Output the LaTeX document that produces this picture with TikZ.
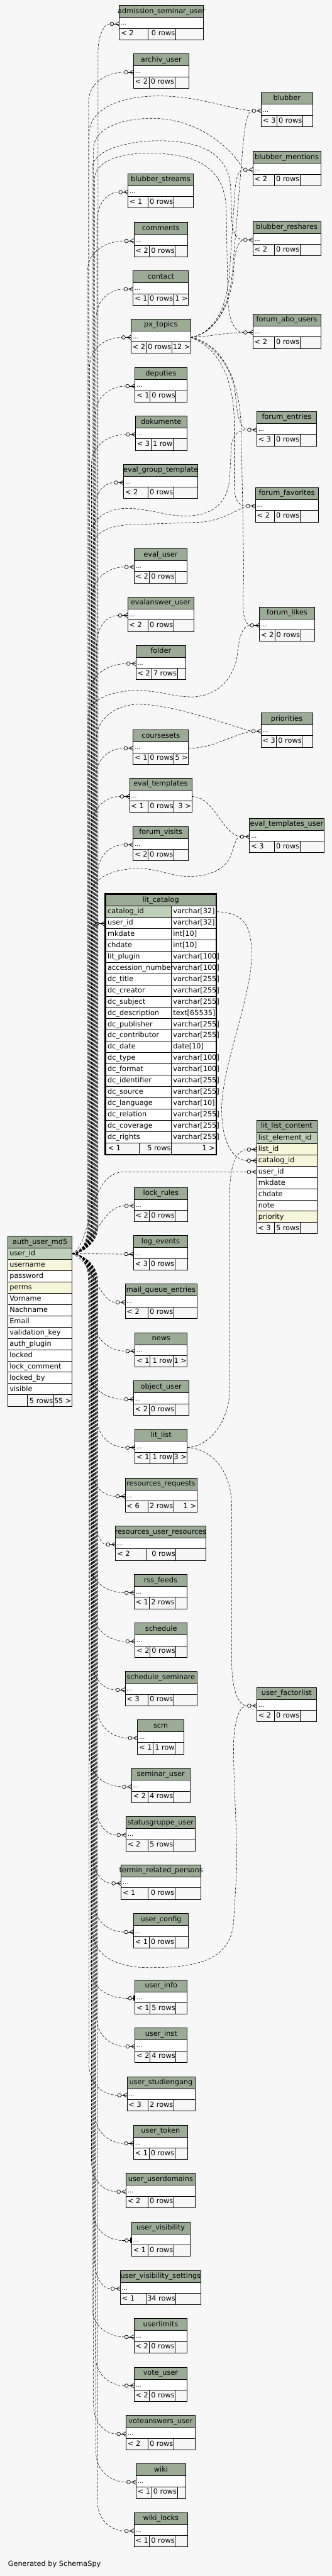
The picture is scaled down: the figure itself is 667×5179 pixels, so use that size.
\documentclass[tikz,border=0pt]{standalone}
\usepackage{fontspec}
\setmainfont{DejaVu Sans}
\usetikzlibrary{calc}
\definecolor{bgc}{HTML}{F7F7F7}
\definecolor{hdrc}{HTML}{9BAB96}
\definecolor{pkc}{HTML}{BED1B8}
\definecolor{idxc}{HTML}{F4F7DA}
\newcommand\tfont{\fontsize{14.3}{17}\selectfont}
\newlength\ttlw
\tikzset{
 txt/.style={font=\tfont, inner sep=0pt, text=black},
 dots/.style={font=\fontsize{12}{14}\selectfont, inner sep=0pt},
 boxline/.style={draw=black, line width=0.9pt},
 fk/.style={draw=black, line width=0.7pt, dash pattern=on 5pt off 3pt},
 mk/.style={draw=black, line width=0.9pt},
}
\newcommand\tblA[9]{%
  \path[fill=hdrc] (#2,#4) rectangle (#3,#4+24);
  \path[fill=white] (#2,#4+24) rectangle (#3,#4+46);
  \draw[boxline] (#2,#4) rectangle (#3,#4+69);
  \draw[boxline] (#2,#4+24) -- (#3,#4+24) (#2,#4+46) -- (#3,#4+46)
     (#5,#4+46) -- (#5,#4+69) (#6,#4+46) -- (#6,#4+69);
  \settowidth\ttlw{\tfont #7}%
  \node[txt,anchor=base,xshift=0.048\ttlw] (#1-title) at ({(#2+#3)/2},#4+16) {#7};
  \node[dots,anchor=base west] (#1-dots) at (#2+3,#4+39.5) {...};
  \node[txt,anchor=base west] (#1-l) at (#2+3,#4+61) {#8};
  \node[txt,anchor=base east] (#1-m) at (#6-1,#4+61) {#9};
  \coordinate (#1-in) at (#2-19,#4+37);
  \coordinate (#1-out) at (#3,#4+37);
}
\newcommand\rlab[4]{\node[txt,anchor=base east] (#1-r) at (#2-1,#3+61) {#4};}
\newcommand\crowmark[1]{%
  \draw[mk] ($(#1)+(4,0)$) circle[radius=3.6];
  \draw[mk] ($(#1)+(7.6,0)$) -- ($(#1)+(19,0)$);
  \draw[mk] ($(#1)+(11,0)$) -- ($(#1)+(19,-4.5)$) ($(#1)+(11,0)$) -- ($(#1)+(19,4.5)$);
}
\newcommand\onemark[1]{%
  \draw[mk] ($(#1)+(9,0)$) circle[radius=3.6];
  \draw[mk] (#1) -- ($(#1)+(5.4,0)$) ($(#1)+(12.6,0)$) -- ($(#1)+(16,0)$);
  \fill ($(#1)+(15.5,-5)$) rectangle ($(#1)+(18.5,5)$);
}
\newcommand\upc[2]{%
  \draw[fk] let \p1=(#1-in) in (auth-out) .. controls +(18pt,0pt) and (#2pt,-2500pt) .. (#2pt,-2465pt)
   -- (#2pt,\y1-60pt) .. controls (#2pt,\y1-22pt) and ({\x1/2+#2pt/2},\y1) .. (#1-in);
}
\newcommand\dnc[2]{%
  \draw[fk] let \p1=(#1-in) in (auth-out) .. controls +(18pt,0pt) and (#2pt,-2540pt) .. (#2pt,-2575pt)
   -- (#2pt,\y1+60pt) .. controls (#2pt,\y1+22pt) and ({\x1/2+#2pt/2},\y1) .. (#1-in);
}
\begin{document}
\begin{tikzpicture}[x=1pt,y=-1pt]
\useasboundingbox (0,0) rectangle (667,5179);
\fill[bgc] (0,0) rectangle (667,5179);

% ---------- small tables ----------
\tblA{admsem}{240}{409}{11}{297}{353}{admission\_seminar\_user}{< 2}{0 rows}
\tblA{archiv}{268.5}{379.6}{108.3}{299.6}{351.5}{archiv\_user}{< 2}{0 rows}
\tblA{blubber}{525.5}{628.5}{185.7}{556.6}{608.5}{blubber}{< 3}{0 rows}
\tblA{blubmen}{508.5}{644.7}{304.3}{551.5}{603.4}{blubber\_mentions}{< 2}{0 rows}
\tblA{blubstr}{257.4}{388.5}{349.3}{297.4}{349.4}{blubber\_streams}{< 1}{0 rows}
\tblA{comments}{269.4}{377.4}{447.3}{300.4}{352.3}{comments}{< 2}{0 rows}
\tblA{blubres}{508.5}{644.7}{445.3}{551.5}{603.4}{blubber\_reshares}{< 2}{0 rows}
\tblA{contact}{267.7}{379.1}{544.3}{297.9}{349.4}{contact}{< 1}{0 rows}
\rlab{contact}{379.1}{544.3}{1 >}
\tblA{pxtopics}{263.4}{383.4}{641.3}{293.2}{345.5}{px\_topics}{< 2}{0 rows}
\rlab{pxtopics}{383.4}{641.3}{12 >}
\tblA{forumabo}{508.5}{644.7}{631.3}{551.5}{603.4}{forum\_abo\_users}{< 2}{0 rows}
\tblA{deputies}{271.5}{375.7}{739.3}{301.7}{353.6}{deputies}{< 1}{0 rows}
\tblA{dokumente}{272.3}{375.7}{836.3}{303.4}{348.1}{dokumente}{< 3}{1 row}
\tblA{forument}{516.2}{636.6}{827.3}{551.5}{603.4}{forum\_entries}{< 3}{0 rows}
\tblA{evalgrp}{248.5}{397.9}{933.3}{297.9}{349.4}{eval\_group\_template}{< 2}{0 rows}
\tblA{forumfav}{513.6}{639.6}{980.3}{551.5}{603.4}{forum\_favorites}{< 2}{0 rows}
\tblA{evaluser}{269.4}{376.6}{1103}{300.4}{352.3}{eval\_user}{< 2}{0 rows}
\tblA{evalans}{256.6}{389.4}{1200.3}{297.9}{349.4}{evalanswer\_user}{< 2}{0 rows}
\tblA{forumlikes}{521.7}{632.8}{1220.3}{552.8}{604.3}{forum\_likes}{< 2}{0 rows}
\tblA{folder}{273.2}{373.6}{1297.3}{304.7}{356.6}{folder}{< 2}{7 rows}
\tblA{priorities}{524.7}{628.5}{1433}{555.7}{607.7}{priorities}{< 3}{0 rows}
\tblA{coursesets}{267.7}{379.1}{1467.3}{297.9}{349.8}{coursesets}{< 1}{0 rows}
\rlab{coursesets}{379.1}{1467.3}{5 >}
\tblA{evaltpl}{260.4}{385.5}{1564.3}{297.9}{349.8}{eval\_templates}{< 1}{0 rows}
\rlab{evaltpl}{385.5}{1564.3}{3 >}
\tblA{evaltpluser}{501.7}{651.5}{1645.3}{551.5}{603.4}{eval\_templates\_user}{< 3}{0 rows}
\tblA{forumvisits}{267.7}{379.1}{1661.3}{297.9}{349.4}{forum\_visits}{< 2}{0 rows}
\tblA{lockrules}{269.4}{377.4}{2387.3}{300.4}{352.3}{lock\_rules}{< 2}{0 rows}
\tblA{logevents}{268.5}{377.4}{2484.3}{299.6}{351.5}{log\_events}{< 3}{0 rows}
\tblA{mailq}{251.5}{395.7}{2581.3}{297.9}{349.4}{mail\_queue\_entries}{< 2}{0 rows}
\tblA{news}{271.5}{376.6}{2679.3}{301.7}{347.7}{news}{< 1}{1 row}
\rlab{news}{376.6}{2679.3}{1 >}
\tblA{objuser}{268.5}{379.6}{2776.3}{299.6}{351.5}{object\_user}{< 2}{0 rows}
\tblA{litlist}{271.5}{376.6}{2873.3}{301.7}{347.7}{lit\_list}{< 1}{1 row}
\rlab{litlist}{376.6}{2873.3}{3 >}
\tblA{resreq}{251.5}{395.7}{2971.3}{297.9}{349.4}{resources\_requests}{< 6}{2 rows}
\rlab{resreq}{395.7}{2971.3}{1 >}
\tblA{resuser}{232.3}{413.6}{3068}{293.6}{353.6}{resources\_user\_resources}{< 2}{0 rows}
\tblA{rss}{269.4}{376.6}{3165.3}{300.4}{352.3}{rss\_feeds}{< 1}{2 rows}
\tblA{schedule}{271.5}{376.6}{3263}{301.7}{353.6}{schedule}{< 2}{0 rows}
\tblA{schedsem}{251.5}{395.7}{3360.3}{297.9}{349.4}{schedule\_seminare}{< 3}{0 rows}
\tblA{factorlist}{516.2}{636.6}{3392.3}{551.5}{603.4}{user\_factorlist}{< 2}{0 rows}
\tblA{scm}{276.6}{369.8}{3457.3}{307.7}{352.3}{scm}{< 1}{1 row}
\tblA{seminaruser}{264.7}{381.7}{3555}{297.9}{349.4}{seminar\_user}{< 2}{4 rows}
\tblA{statusgr}{253.6}{392.3}{3652.3}{297.9}{349.4}{statusgruppe\_user}{< 2}{5 rows}
\tblA{termin}{243.4}{404.3}{3749.3}{297.9}{351.5}{termin\_related\_persons}{< 1}{0 rows}
\tblA{userconfig}{268.5}{379.1}{3847.3}{299.6}{351.5}{user\_config}{< 1}{0 rows}
\tblA{userinfo}{271.5}{376.6}{3980.3}{301.7}{353.6}{user\_info}{< 1}{5 rows}
\tblA{userinst}{271.5}{376.6}{4077.3}{301.7}{353.6}{user\_inst}{< 2}{4 rows}
\tblA{userstud}{255.3}{391.9}{4175.3}{297.9}{349.4}{user\_studiengang}{< 3}{2 rows}
\tblA{usertoken}{268.5}{377.4}{4272.3}{299.6}{351.5}{user\_token}{< 1}{0 rows}
\tblA{userdom}{253.6}{392.3}{4369.3}{297.9}{349.4}{user\_userdomains}{< 2}{0 rows}
\tblA{uservis}{264.7}{381.7}{4467.3}{297.9}{349.4}{user\_visibility}{< 1}{0 rows}
\tblA{uservisset}{241.7}{404.3}{4564.3}{293.6}{353.6}{user\_visibility\_settings}{< 1}{34 rows}
\tblA{userlimits}{269.4}{376.6}{4661.3}{300.4}{352.3}{userlimits}{< 2}{0 rows}
\tblA{voteuser}{269.4}{376.6}{4759.3}{300.4}{352.3}{vote\_user}{< 2}{0 rows}
\tblA{voteans}{253.6}{392.3}{4856.3}{297.9}{349.4}{voteanswers\_user}{< 2}{0 rows}
\tblA{wiki}{273.6}{373.6}{4953.3}{304.7}{356.6}{wiki}{< 1}{0 rows}
\tblA{wikilocks}{269.4}{377.4}{5051.3}{300.4}{352.3}{wiki\_locks}{< 1}{0 rows}

% ---------- lit_catalog ----------
\path[fill=hdrc] (211.7,1797.2) rectangle (434.7,1821.3);
\path[fill=white] (211.7,1821.3) rectangle (434.7,2297.3);
\path[fill=pkc] (211.7,1821.3) rectangle (344.7,1844);
\settowidth\ttlw{\tfont lit\_catalog}
\node[txt,anchor=base,xshift=0.048\ttlw] (litcat-title) at (323.2,1813.5) {lit\_catalog};
\foreach \nm/\ty [count=\i from 0] in {catalog\_id/varchar[32],user\_id/varchar[32],mkdate/int[10],chdate/int[10],lit\_plugin/varchar[100],accession\_number/varchar[100],dc\_title/varchar[255],dc\_creator/varchar[255],dc\_subject/varchar[255],dc\_description/text[65535],dc\_publisher/varchar[255],dc\_contributor/varchar[255],dc\_date/date[10],dc\_type/varchar[100],dc\_format/varchar[100],dc\_identifier/varchar[255],dc\_source/varchar[255],dc\_language/varchar[10],dc\_relation/varchar[255],dc\_coverage/varchar[255],dc\_rights/varchar[255]}{
  \pgfmathsetmacro\ya{1821.3+22.67*\i}
  \draw[boxline] (211.7,\ya) -- (434.7,\ya);
  \node[txt,anchor=base west] (lc-n\i) at (216.2,\ya+15.5) {\nm};
  \node[txt,anchor=base west] (lc-t\i) at (348,\ya+15.5) {\ty};
}
\draw[boxline] (211.7,2297.3) -- (434.7,2297.3) (344.7,1821.3) -- (344.7,2321.5) (279.6,2297.3) -- (279.6,2321.5);
\node[txt,anchor=base west] (litcat-l) at (217,2313) {< 1};
\node[txt,anchor=base east] (litcat-m) at (343.5,2313) {5 rows};
\node[txt,anchor=base east] (litcat-r) at (432.5,2313) {1 >};
\draw[draw=black,line width=3pt] (211.7,1797.2) rectangle (434.7,2321.5);
\coordinate (litcat-in) at (191.2,1857);
\coordinate (litcat-out) at (436.2,1833);

% ---------- lit_list_content ----------
\path[fill=hdrc] (515.7,2252.3) rectangle (637.4,2276.3);
\foreach \nm/\cc [count=\i from 0] in {list\_element\_id/pkc,list\_id/idxc,catalog\_id/idxc,user\_id/white,mkdate/white,chdate/white,note/white,priority/idxc}{
  \pgfmathsetmacro\ya{2276.3+22.67*\i}
  \path[fill=\cc] (515.7,\ya) rectangle (637.4,\ya+22.67);
  \draw[boxline] (515.7,\ya) -- (637.4,\ya);
  \node[txt,anchor=base west] (llc-n\i) at (519.2,\ya+15.5) {\nm};
}
\draw[boxline] (515.7,2457.6) -- (637.4,2457.6) (551.5,2457.6) -- (551.5,2480) (603.4,2457.6) -- (603.4,2480);
\draw[boxline] (515.7,2252.3) rectangle (637.4,2480);
\settowidth\ttlw{\tfont lit\_list\_content}
\node[txt,anchor=base,xshift=0.048\ttlw] (llc-title) at (576.5,2268.3) {lit\_list\_content};
\node[txt,anchor=base west] (llc-l) at (518.7,2474) {< 3};
\node[txt,anchor=base east] (llc-m) at (602.4,2474) {5 rows};
\coordinate (llclist-in) at (496.7,2311);
\coordinate (llccat-in) at (496.7,2333.5);
\coordinate (llcuser-in) at (496.7,2356);

% ---------- auth_user_md5 ----------
\path[fill=hdrc] (16.2,2485.3) rectangle (144.7,2509.3);
\foreach \nm/\cc [count=\i from 0] in {user\_id/pkc,username/idxc,password/white,perms/idxc,Vorname/white,Nachname/white,Email/white,validation\_key/white,auth\_plugin/white,locked/white,lock\_comment/white,locked\_by/white,visible/white}{
  \pgfmathsetmacro\ya{2509.3+22.67*\i}
  \path[fill=\cc] (16.2,\ya) rectangle (144.7,\ya+22.67);
  \draw[boxline] (16.2,\ya) -- (144.7,\ya);
  \node[txt,anchor=base west] (auth-n\i) at (19.2,\ya+15.5) {\nm};
}
\draw[boxline] (16.2,2804) -- (144.7,2804) (55.3,2804) -- (55.3,2827) (107.7,2804) -- (107.7,2827);
\draw[boxline] (16.2,2485.3) rectangle (144.7,2827);
\settowidth\ttlw{\tfont auth\_user\_md5}
\node[txt,anchor=base,xshift=0.048\ttlw] (auth-title) at (80.5,2501.3) {auth\_user\_md5};
\node[txt,anchor=base east] (auth-m) at (106.7,2821) {5 rows};
\node[txt,anchor=base east] (auth-r) at (143.7,2821) {55 >};
\coordinate (auth-out) at (144.7,2520.5);

% ---------- connectors from auth_user_md5 to the left column ----------
\upc{admsem}{197}
\upc{archiv}{178}
\upc{blubstr}{195}
\upc{comments}{176}
\upc{contact}{193}
\upc{pxtopics}{180}
\upc{deputies}{191}
\upc{dokumente}{184}
\upc{evalgrp}{189}
\upc{evaluser}{186}
\upc{evalans}{194}
\upc{folder}{181}
\upc{coursesets}{192}
\upc{evaltpl}{185}
\upc{forumvisits}{196}
\draw[fk] (auth-out) .. controls (163,2520) and (186,2500) .. (186,2465) -- (186,1890) .. controls (186,1868) and (188,1857) .. (litcat-in);
\draw[fk] (auth-out) .. controls (190,2505) and (205,2424.3) .. (lockrules-in);
\draw[fk] (auth-out) -- (logevents-in);
\draw[fk] (auth-out) .. controls (185,2535) and (200,2618.3) .. (mailq-in);
\dnc{news}{190}
\dnc{objuser}{178}
\dnc{litlist}{195}
\dnc{resreq}{183}
\dnc{resuser}{192}
\dnc{rss}{181}
\dnc{schedule}{188}
\dnc{schedsem}{185}
\dnc{scm}{196}
\dnc{seminaruser}{180}
\dnc{statusgr}{193}
\dnc{termin}{186}
\dnc{userconfig}{189}
\dnc{userinfo}{182}
\dnc{userinst}{194}
\dnc{userstud}{179}
\dnc{usertoken}{191}
\dnc{userdom}{184}
\dnc{uservis}{187}
\dnc{uservisset}{190}
\dnc{userlimits}{185}
\dnc{voteuser}{192}
\dnc{voteans}{188}
\dnc{wiki}{193}
\dnc{wikilocks}{196}

% ---------- connectors from auth_user_md5 to the right column ----------
\draw[fk] (auth-out) .. controls (163,2520) and (179,2500) .. (179,2465) -- (179,270) .. controls (179,215) and (250,193) .. (319,193) .. controls (400,193) and (460,219) .. (blubber-in);
\draw[fk] (auth-out) .. controls (163,2520) and (188,2500) .. (188,2465) -- (188,300) .. controls (188,255) and (250,238) .. (306,238) .. controls (400,238) and (468,300) .. (blubmen-in);
\draw[fk] (auth-out) .. controls (163,2520) and (185,2500) .. (185,2465) -- (185,340) .. controls (185,300) and (260,283) .. (319,283) .. controls (420,283) and (462,320) .. (464,380) -- (466,440) .. controls (467,470) and (477,482.3) .. (blubres-in);
\draw[fk] (auth-out) .. controls (163,2520) and (190,2500) .. (190,2465) -- (190,360) .. controls (190,325) and (240,308) .. (298,308) .. controls (400,308) and (452,340) .. (455,420) -- (458,600) .. controls (460,645) and (472,668.3) .. (forumabo-in);
\draw[fk] (auth-out) .. controls (163,2520) and (182,2500) .. (182,2465) -- (182,1080) .. controls (182,1040) and (220,1022) .. (255,1022) .. controls (300,1022) and (340,1040) .. (383,1037) .. controls (430,1034) and (458,1010) .. (462,960) -- (465,900) .. controls (467,875) and (478,864.3) .. (forument-in);
\draw[fk] (auth-out) .. controls (163,2520) and (187,2500) .. (187,2465) -- (187,1100) .. controls (187,1070) and (220,1057) .. (260,1055) -- (400,1050) .. controls (440,1048) and (470,1030) .. (forumfav-in);
\draw[fk] (auth-out) .. controls (163,2520) and (177,2500) .. (177,2465) -- (177,1440) .. controls (177,1400) and (240,1388) .. (277,1388) .. controls (330,1390) and (350,1402) .. (390,1401) .. controls (440,1398) and (474,1360) .. (478,1310) .. controls (481,1280) and (488,1257.3) .. (forumlikes-in);
\draw[fk] (auth-out) .. controls (163,2520) and (193,2500) .. (193,2465) -- (193,1490) .. controls (193,1440) and (240,1416) .. (277,1416) .. controls (350,1416) and (450,1455) .. (priorities-in);
\draw[fk] (auth-out) .. controls (163,2520) and (183,2500) .. (183,2465) -- (183,1800) .. controls (183,1760) and (240,1746) .. (277,1746) .. controls (320,1746) and (340,1762) .. (380,1762) .. controls (430,1762) and (458,1742) .. (466,1715) .. controls (472,1695) and (476,1682.3) .. (evaltpluser-in);
\draw[fk] (auth-out) .. controls (185,2505) and (175,2356) .. (250,2356) -- (llcuser-in);
\draw[fk] (auth-out) .. controls (163,2520) and (186,2540) .. (186,2575) -- (186,3880) .. controls (186,3935) and (240,3956) .. (300,3956) .. controls (400,3956) and (466,3940) .. (470,3860) -- (476,3760) .. controls (478,3700) and (468,3560) .. (470,3500) .. controls (472,3455) and (482,3429.3) .. (factorlist-in);

% ---------- other connectors ----------
\draw[fk] (pxtopics-out) .. controls (430,672) and (462,620) .. (468,540) -- (488,300) .. controls (492,250) and (498,224) .. (blubber-in);
\draw[fk] (pxtopics-out) .. controls (430,670) and (458,620) .. (462,540) -- (472,390) .. controls (474,355) and (480,342) .. (blubmen-in);
\draw[fk] (pxtopics-out) .. controls (440,668) and (468,600) .. (470,540) .. controls (472,505) and (478,485) .. (blubres-in);
\draw[fk] (pxtopics-out) .. controls (420,677) and (450,669) .. (forumabo-in);
\draw[fk] (pxtopics-out) .. controls (430,690) and (470,740) .. (474,800) .. controls (477,840) and (485,862) .. (forument-in);
\draw[fk] (pxtopics-out) .. controls (440,700) and (470,760) .. (471,850) -- (471,975) .. controls (471,1005) and (480,1017) .. (forumfav-in);
\draw[fk] (pxtopics-out) .. controls (445,690) and (482,760) .. (485,860) -- (490,1130) .. controls (491,1200) and (482,1250) .. (forumlikes-in);
\draw[fk] (coursesets-out) .. controls (430,1504) and (460,1480) .. (priorities-in);
\draw[fk] (evaltpl-out) .. controls (430,1601) and (445,1674) .. (evaltpluser-in);
\draw[fk] (litcat-out) .. controls (490,1835) and (506,1860) .. (506,1920) .. controls (506,2000) and (451,2130) .. (446,2220) .. controls (444,2280) and (460,2331) .. (llccat-in);
\draw[fk] (litlist-out) .. controls (420,2908) and (462,2860) .. (462,2790) -- (462,2400) .. controls (462,2350) and (472,2313) .. (llclist-in);
\draw[fk] (litlist-out) .. controls (420,2912) and (466,2950) .. (466,3030) -- (466,3340) .. controls (466,3395) and (478,3429) .. (factorlist-in);

% ---------- markers ----------
\foreach \t in {admsem,archiv,blubber,blubmen,blubstr,comments,blubres,contact,pxtopics,forumabo,deputies,dokumente,forument,evalgrp,forumfav,evaluser,evalans,forumlikes,folder,priorities,coursesets,evaltpl,evaltpluser,forumvisits,lockrules,logevents,mailq,news,objuser,litlist,resreq,resuser,rss,schedule,schedsem,factorlist,scm,seminaruser,statusgr,termin,userconfig,userinst,userstud,usertoken,userdom,uservisset,userlimits,voteuser,voteans,wiki,wikilocks}{
  \crowmark{\t-in}
}
\crowmark{litcat-in}
\crowmark{llclist-in}
\crowmark{llccat-in}
\crowmark{llcuser-in}
\onemark{userinfo-in}
\onemark{uservis-in}

\node[txt,anchor=base west] (credit) at (16,5159) {Generated by SchemaSpy};
\end{tikzpicture}
\end{document}
